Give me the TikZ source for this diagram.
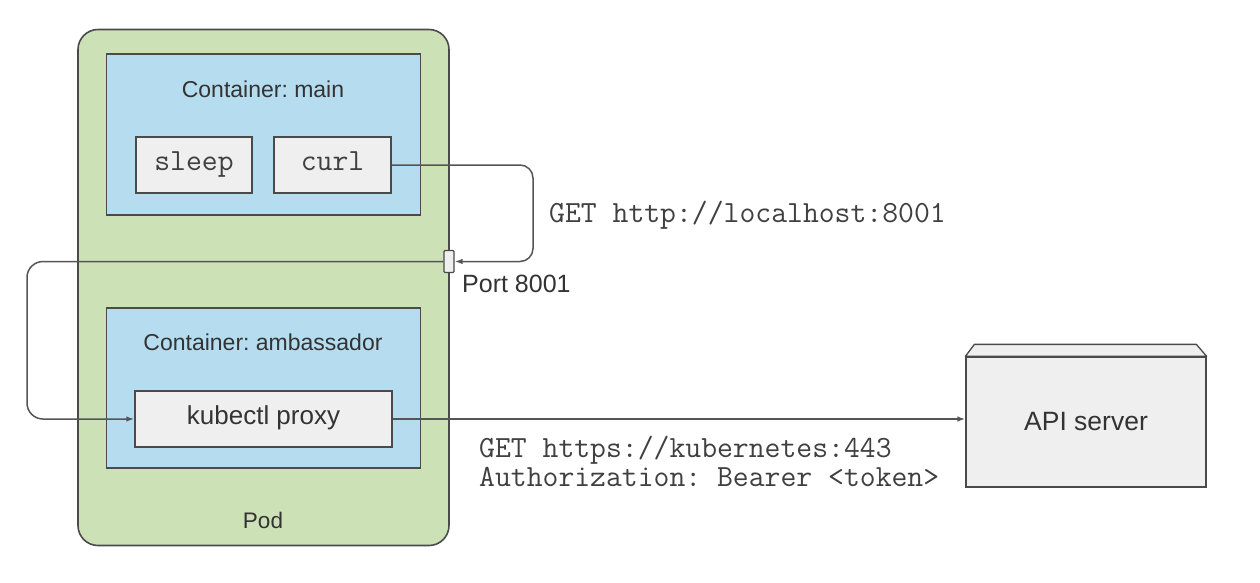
\documentclass[tikz,border=0pt]{standalone}
\usepackage{fontspec}
\setmainfont{Liberation Sans}
\usetikzlibrary{arrows.meta}
\definecolor{podgreen}{HTML}{CCE1B5}
\definecolor{cblue}{HTML}{B6DDEF}
\definecolor{boxgray}{HTML}{EFEFEF}
\definecolor{edgec}{HTML}{4A4A4A}
\definecolor{linec}{HTML}{555555}
\frenchspacing
\begin{document}
\begin{tikzpicture}[x=1pt,y=-1pt,
  podbox/.style={draw=edgec,line width=1.6pt,fill=podgreen,rounded corners=20pt,inner sep=0pt},
  contbox/.style={draw=edgec,line width=1.4pt,fill=cblue,inner sep=0pt},
  procbox/.style={draw=edgec,line width=1.4pt,fill=boxgray,inner sep=0pt,text height=15pt,text depth=5pt},
  conn/.style={draw=linec,line width=1.5pt,-{Latex[length=8pt,width=5.5pt]}},
  lbl/.style={font=\fontsize{23}{27}\selectfont,text=black!80,inner sep=0pt},
  mono/.style={font=\fontsize{30.8}{29}\selectfont\ttfamily\frenchspacing,text=black!75,inner sep=0pt}
]
\useasboundingbox (0,0) rectangle (1260,582);
\fill[white] (0,0) rectangle (1260,582);

% Pod
\node[podbox,minimum width=371pt,minimum height=516pt] (pod) at (263.5,287.5) {};
\node[lbl,font=\fontsize{22.5}{26}\selectfont] (podlbl) at (263,520) {Pod};

% Container main
\node[contbox,minimum width=314pt,minimum height=161pt] (cmain) at (263.5,134.5) {};
\node[lbl] (cmainlbl) at (263,89) {Container: main};
\node[procbox,minimum width=116pt,minimum height=56pt,mono] (sleep) at (194,165) {sleep};
\node[procbox,minimum width=117pt,minimum height=56pt,mono] (curl) at (332.5,165) {curl};

% Container ambassador
\node[contbox,minimum width=314pt,minimum height=160pt] (camb) at (263.5,388) {};
\node[lbl] (camblbl) at (263,342) {Container: ambassador};
\node[procbox,minimum width=257pt,minimum height=56pt,font=\fontsize{26}{30}\selectfont,text=black!80] (kproxy) at (263.5,419) {kubectl proxy};

% Port
\node[draw=edgec,line width=1.2pt,fill=boxgray,minimum width=10pt,minimum height=22pt,inner sep=0pt,rounded corners=1pt] (port) at (449,261.5) {};
\node[lbl,font=\fontsize{25}{29}\selectfont,anchor=west] (portlbl) at (462,284) {Port 8001};

% API server
\node[draw=edgec,line width=1.3pt,fill=boxgray,minimum width=240pt,minimum height=130pt,inner sep=0pt,font=\fontsize{26.5}{30}\selectfont,text=black!80] (api) at (1086,422) {API server};
\filldraw[draw=edgec,line width=1.3pt,fill=boxgray,line join=round] (api.north west) -- ++(9,-12) -- ++(222,0) -- (api.north east) -- cycle;

% connectors
\coordinate (c1) at (533,261.5);
\coordinate (c2) at (27,340);
\draw[conn,rounded corners=13pt] (curl.east) -| (c1) -- (port.east);
\draw[conn,rounded corners=16pt] (port.west) -| (c2) |- (kproxy.west);
\draw[conn] (kproxy.east) -- (kproxy.east -| api.west);

% labels
\node[mono,anchor=west] (get1) at (549,215) {GET http://localhost:8001};
\node[mono,anchor=north west,align=left] (get2) at (479,436) {GET https://kubernetes:443\\Authorization: Bearer <token>};
\end{tikzpicture}
\end{document}
